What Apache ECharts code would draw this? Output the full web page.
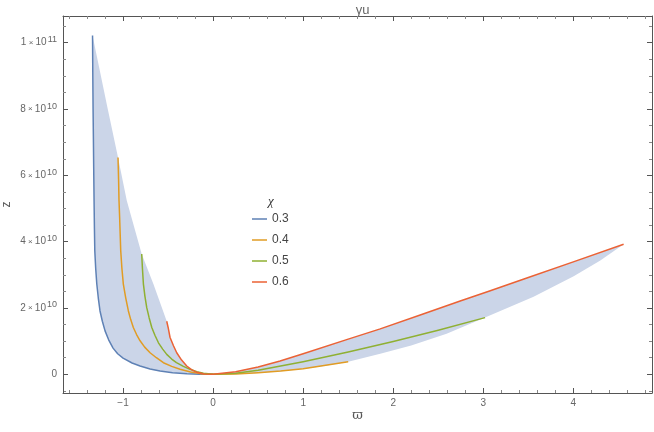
<!DOCTYPE html>
<html>
<head>
<meta charset="utf-8">
<script src="https://cdn.jsdelivr.net/npm/echarts@6/dist/echarts.min.js"></script>
<style>html,body{margin:0;padding:0;background:#fff;}#c{width:654px;height:432px;}</style>
</head>
<body>
<div id="c"></div>
<script>
// z values are in units of 1e10
var SCALE_EXP = 10;
var seriesNames = ['0.3', '0.4', '0.5', '0.6'];
var colors = ['#5e81b5', '#e19c24', '#8fb032', '#eb6235'];

var curve03 = [[-1.339,10.22],[-1.336,9.0],[-1.333,8.0],[-1.329,7.0],[-1.326,6.2],[-1.322,5.24],[-1.318,4.4],[-1.314,3.73],[-1.304,3.2],[-1.292,2.73],[-1.275,2.3],[-1.256,1.91],[-1.23,1.6],[-1.2,1.31],[-1.16,1.04],[-1.111,0.79],[-1.06,0.62],[-1.0,0.49],[-0.9,0.34],[-0.811,0.25],[-0.7,0.16],[-0.589,0.10],[-0.45,0.05],[-0.289,0.02],[-0.15,0.005],[0,0]];
var curve04 = [[-1.056,6.54],[-1.05,5.9],[-1.045,5.24],[-1.038,4.73],[-1.026,3.73],[-1.013,3.2],[-0.997,2.72],[-0.97,2.3],[-0.941,1.91],[-0.915,1.65],[-0.886,1.41],[-0.85,1.2],[-0.811,1.01],[-0.76,0.82],[-0.7,0.65],[-0.63,0.5],[-0.552,0.35],[-0.46,0.24],[-0.367,0.15],[-0.25,0.07],[-0.144,0.02],[0,0],[0.25,0.01],[0.5,0.05],[0.75,0.10],[1.0,0.17],[1.25,0.27],[1.5,0.38]];
var curve05 = [[-0.793,3.63],[-0.785,3.2],[-0.774,2.72],[-0.757,2.35],[-0.737,2.01],[-0.71,1.7],[-0.681,1.41],[-0.645,1.17],[-0.607,0.95],[-0.56,0.76],[-0.515,0.60],[-0.46,0.46],[-0.407,0.35],[-0.33,0.24],[-0.256,0.15],[-0.18,0.08],[-0.107,0.03],[0,0],[0.25,0.03],[0.5,0.12],[0.75,0.25],[1.0,0.38],[1.5,0.67],[2.0,0.99],[2.5,1.33],[3.02,1.71]];
var curve06 = [[-0.515,1.60],[-0.5,1.42],[-0.478,1.11],[-0.44,0.86],[-0.404,0.65],[-0.35,0.43],[-0.293,0.25],[-0.24,0.14],[-0.181,0.06],[-0.1,0.01],[0,0],[0.25,0.08],[0.5,0.22],[0.744,0.40],[1.0,0.62],[1.5,1.06],[1.856,1.37],[2.3,1.79],[2.744,2.21],[3.078,2.52],[3.5,2.92],[4.0,3.39],[4.559,3.92]];
// boundary of the shaded region: locus of start points (left) and end points (right)
var startLocus = [[-1.339,10.22],[-1.17,8.0],[-1.056,6.54],[-0.959,5.24],[-0.793,3.63],[-0.663,2.72],[-0.515,1.60]];
var endLocus = [[1.5,0.38],[1.856,0.62],[2.2,0.87],[2.593,1.22],[3.02,1.71],[3.559,2.34],[4.004,2.96],[4.3,3.43],[4.559,3.92]];
var lowerRightEdge = [[0,0],[0.25,0.005],[0.5,0.04],[0.75,0.09],[1.0,0.16],[1.25,0.26],[1.5,0.38]];

var yTicksMajor = [0, 2, 4, 6, 8, 10];

// polygon of shaded region, built from arrays above
var region = [];
curve03.slice().reverse().forEach(function(p){ region.push(p); });
startLocus.slice(1, startLocus.length - 1).forEach(function(p){ region.push(p); });
curve06.forEach(function(p){ region.push(p); });
endLocus.slice().reverse().forEach(function(p){ region.push(p); });
lowerRightEdge.slice().reverse().forEach(function(p){ region.push(p); });

var curves = [curve03, curve04, curve05, curve06];

var axisColor = '#555';
var labelColor = '#666';

function yFmt(v) {
  if (Math.abs(v) < 1e-9) return '{m|0}';
  var s = Math.round(v * 1000) / 1000;
  var mant = s, exp = SCALE_EXP;
  if (s >= 10) { mant = s / 10; exp = SCALE_EXP + 1; }
  return '{m|' + mant + '}{x| × }{m|10}{e|' + exp + '}';
}

var series = [{
  type: 'custom',
  name: 'region',
  silent: true,
  z: 1,
  xAxisIndex: 0, yAxisIndex: 0,
  data: [[0, 0]],
  renderItem: function (params, api) {
    var pts = region.map(function (p) { return api.coord(p); });
    return { type: 'polygon', shape: { points: pts }, style: { fill: '#cbd5e8', stroke: null } };
  }
}];
curves.forEach(function (c, i) {
  series.push({
    type: 'line', name: seriesNames[i], data: c, symbol: 'none', smooth: false,
    xAxisIndex: 0, yAxisIndex: 0, z: 3 + i,
    lineStyle: { color: colors[i], width: 1.5, join: 'round' }, itemStyle: { color: colors[i] }
  });
});

var chart = echarts.init(document.getElementById('c'), null, { renderer: 'canvas' });
chart.setOption({
  animation: false,
  backgroundColor: '#fff',
  color: colors,
  title: [
    { text: 'γu', left: 357.5, textAlign: 'center', top: -1, textStyle: { fontSize: 13, fontWeight: 'normal', color: '#666', fontFamily: 'Liberation Sans' } },
    { text: 'χ', left: 263, top: 190, textStyle: { fontSize: 13, fontStyle: 'italic', fontWeight: 'normal', color: '#333', fontFamily: 'Liberation Serif' } }
  ],
  legend: {
    orient: 'vertical', left: 247, top: 208, itemWidth: 15, itemHeight: 12, itemGap: 9,
    data: seriesNames,
    textStyle: { fontSize: 12, color: '#444', fontFamily: 'Liberation Sans', padding: [0, 0, 0, 0] },
    icon: 'path://M0,5 L15,5 L15,6.5 L0,6.5 Z'
  },
  grid: { left: 63, right: 2, top: 16, bottom: 39, show: false, containLabel: false, outerBoundsMode: 'none' },
  xAxis: [{
    type: 'value', min: -1.667, max: 4.874, splitNumber: 7, position: 'bottom',
    name: 'ϖ', nameLocation: 'middle', nameGap: 16, nameMoveOverlap: false,
    nameTextStyle: { fontSize: 13, color: '#555', fontFamily: 'DejaVu Serif' },
    axisLine: { show: true, onZero: false, lineStyle: { color: axisColor, width: 1 } },
    axisTick: { show: true, inside: true, length: 5, lineStyle: { color: axisColor } },
    minorTick: { show: true, splitNumber: 5, length: 3, lineStyle: { color: '#888' } },
    axisLabel: { color: labelColor, fontSize: 10, margin: 5, fontFamily: 'Liberation Sans', showMinLabel: false, showMaxLabel: false,
      formatter: function (v) { return Math.abs(v - Math.round(v)) < 1e-6 ? String(Math.round(v)).replace('-', '−') : ''; } },
    splitLine: { show: false }
  }, {
    type: 'value', min: -1.667, max: 4.874, splitNumber: 7, position: 'top',
    axisLine: { show: true, onZero: false, lineStyle: { color: axisColor, width: 1 } },
    axisTick: { show: true, inside: true, length: 5, lineStyle: { color: axisColor } },
    minorTick: { show: true, splitNumber: 5, length: 3, lineStyle: { color: '#888' } },
    axisLabel: { show: false }, splitLine: { show: false }
  }],
  yAxis: [{
    type: 'value', min: -0.564, max: 10.806, splitNumber: 5, position: 'left',
    name: 'z', nameLocation: 'middle', nameGap: 50, nameRotate: 90, nameMoveOverlap: false,
    nameTextStyle: { fontSize: 12, color: '#555', fontFamily: 'Liberation Sans' },
    axisLine: { show: true, onZero: false, lineStyle: { color: axisColor, width: 1 } },
    axisTick: { show: true, inside: true, length: 5, lineStyle: { color: axisColor } },
    minorTick: { show: true, splitNumber: 4, length: 3, lineStyle: { color: '#888' } },
    axisLabel: {
      color: labelColor, margin: 6, showMinLabel: false, showMaxLabel: false,
      formatter: function (v) {
        for (var i = 0; i < yTicksMajor.length; i++) if (Math.abs(v - yTicksMajor[i]) < 1e-6) return yFmt(v);
        return '';
      },
      rich: {
        m: { fontSize: 10, color: labelColor, fontFamily: 'Liberation Sans', lineHeight: 15 },
        x: { fontSize: 8, color: labelColor, fontFamily: 'Liberation Sans', lineHeight: 15 },
        e: { fontSize: 9, color: labelColor, fontFamily: 'Liberation Sans', lineHeight: 15, verticalAlign: 'top', padding: [0, 0, 0, 1] }
      }
    },
    splitLine: { show: false }
  }, {
    type: 'value', min: -0.564, max: 10.806, splitNumber: 5, position: 'right',
    axisLine: { show: true, onZero: false, lineStyle: { color: axisColor, width: 1 } },
    axisTick: { show: true, inside: true, length: 5, lineStyle: { color: axisColor } },
    minorTick: { show: true, splitNumber: 4, length: 3, lineStyle: { color: '#888' } },
    axisLabel: { show: false }, splitLine: { show: false }
  }],
  series: series
});
</script>
</body>
</html>
